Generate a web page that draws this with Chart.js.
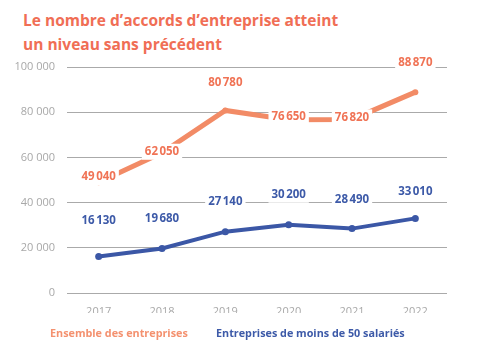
<!DOCTYPE html>
<html><head><meta charset="utf-8">
<script src="https://cdn.jsdelivr.net/npm/chart.js@4/dist/chart.umd.min.js"></script>
<style>
html,body{margin:0;padding:0;background:#fff;}
#wrap{position:relative;width:496px;height:358px;overflow:hidden;font-family:"Open Sans",sans-serif;}
#title{position:absolute;left:23px;top:8px;color:#F06E55;font-weight:700;font-size:15.5px;line-height:24px;}
#legend{position:absolute;top:325px;left:50px;font-weight:700;font-size:10.8px;white-space:nowrap;}
#legend span{position:absolute;top:0;}
canvas{position:absolute;left:0;top:0;}
</style></head>
<body><div id="wrap">
<div id="title">Le nombre d’accords d’entreprise atteint<br>un niveau sans précédent</div>
<canvas id="c" width="496" height="358"></canvas>
<div id="legend"><span style="left:0;color:#F4916F">Ensemble des entreprises</span><span style="left:166px;color:#3D5AA8">Entreprises de moins de 50 salariés</span></div>
</div>
<script>
const years = ['2017','2018','2019','2020','2021','2022'];
const totalAll = [49040, 62050, 80780, 76650, 76820, 88870];
const smallFirms = [16130, 19680, 27140, 30200, 28490, 33010];
const seriesNames = ['Ensemble des entreprises', 'Entreprises de moins de 50 salariés'];

function fmt(v, sep){ return String(v).replace(/\B(?=(\d{3})+(?!\d))/g, sep || '\u202F'); }

const labelPlugin = {
  id: 'valueLabels',
  afterDatasetsDraw(chart, args, opts) {
    const ctx = chart.ctx;
    chart.data.datasets.forEach((ds, di) => {
      const meta = chart.getDatasetMeta(di);
      const offs = opts.offsets[di];
      meta.data.forEach((pt, i) => {
        const txt = fmt(ds.data[i]);
        ctx.save();
        ctx.font = 'bold 11.5px "Open Sans", sans-serif';
        const w = ctx.measureText(txt).width;
        const x = pt.x, y = pt.y - offs[i];
        ctx.fillStyle = '#fff';
        ctx.fillRect(x - w/2 - 3, y - 8, w + 6, 16);
        ctx.fillStyle = opts.colors[di];
        ctx.textAlign = 'center';
        ctx.textBaseline = 'middle';
        ctx.fillText(txt, x, y);
        ctx.restore();
      });
    });
  }
};

new Chart(document.getElementById('c'), {
  type: 'line',
  data: {
    labels: years,
    datasets: [
      { label: seriesNames[0], data: totalAll, borderColor: '#F28B66', backgroundColor: '#F28B66',
        borderWidth: 5, pointRadius: 3, pointBorderWidth: 0, pointHoverRadius: 3, tension: 0 },
      { label: seriesNames[1], data: smallFirms, borderColor: '#3B57A6', backgroundColor: '#3B57A6',
        borderWidth: 4, pointRadius: 3.5, pointBorderWidth: 0, pointHoverRadius: 3.5, tension: 0 }
    ]
  },
  plugins: [labelPlugin],
  options: {
    responsive: false,
    animation: false,
    layout: { padding: { top: 67, right: 49, left: 0, bottom: 45 } },
    plugins: {
      legend: { display: false },
      tooltip: { enabled: false },
      valueLabels: {
        offsets: [[5, 1, 28, 3, 2, 29], [36, 30, 30, 30, 29, 27]],
        colors: ['#F07355', '#3D5AA8']
      }
    },
    scales: {
      x: {
        offset: true,
        grid: { display: false },
        border: { display: false },
        ticks: { color: '#A8A8A8', font: { family: 'Open Sans', size: 11 }, padding: 4 },
        afterFit(s) { s.height = 20; }
      },
      y: {
        min: 0, max: 100000,
        ticks: { stepSize: 20000, color: '#A8A8A8', font: { family: 'Open Sans', size: 11 }, padding: 12,
                 callback: v => fmt(v, ' ') },
        grid: { color: '#AAAAAA', lineWidth: 1, drawTicks: false },
        border: { display: false },
        afterFit(s) { s.width = 67; }
      }
    }
  }
});
</script>
</body></html>
